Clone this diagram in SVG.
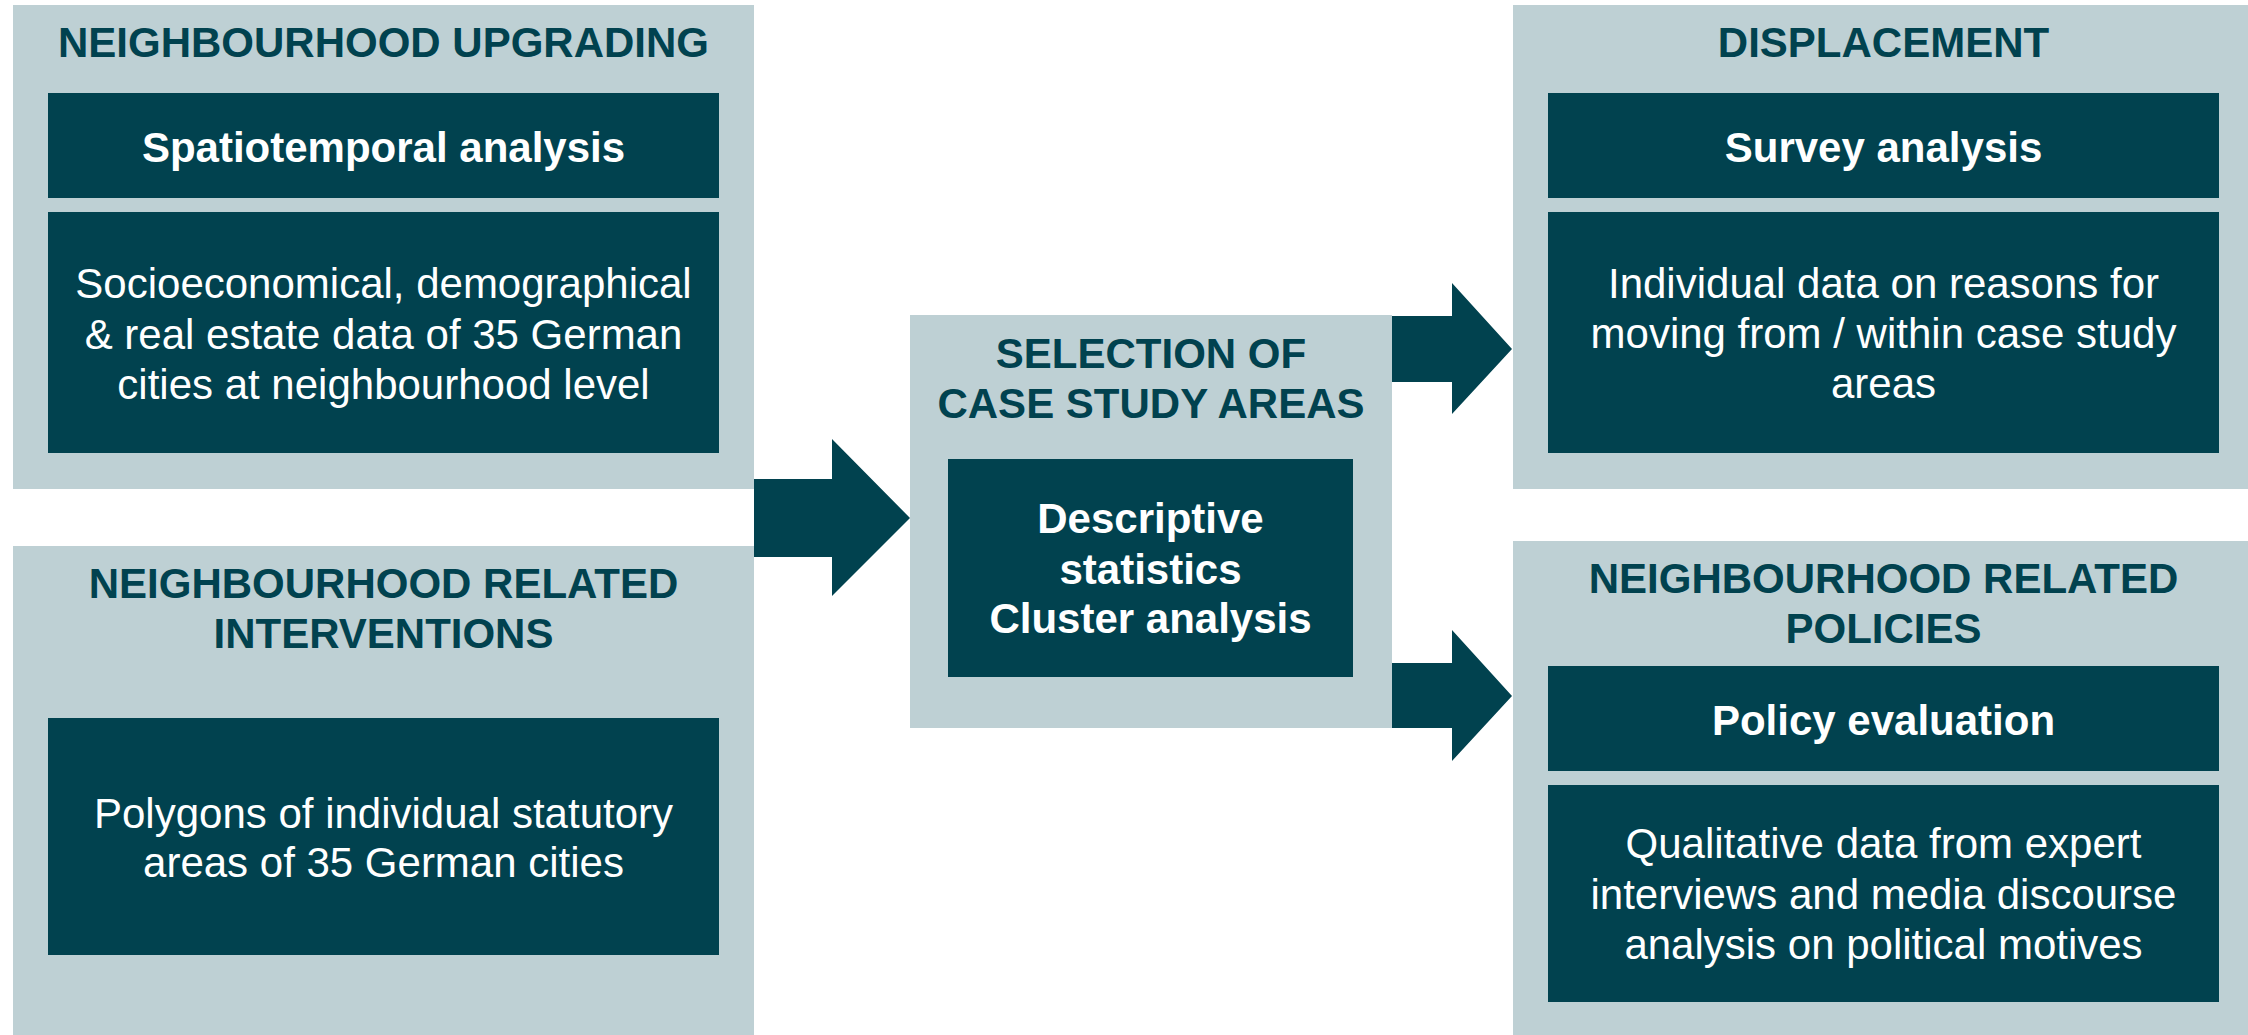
<svg xmlns="http://www.w3.org/2000/svg" width="2248" height="1035" viewBox="0 0 2248 1035">
<style>
.outer{fill:#BED0D4}
.inner{fill:#01424F}
.arrow{fill:#01424F}
text{font-family:"Liberation Sans",Arial,sans-serif;font-size:42px;text-anchor:middle}
.title{font-weight:bold;fill:#01424F}
.head{font-weight:bold;fill:#FFFFFF}
.body{fill:#FFFFFF}
</style>
<rect width="2248" height="1035" fill="#FFFFFF"/>
<g id="node-upgrading">
<rect class="outer" x="13" y="5" width="741" height="484"/>
<text class="title" x="383.5" y="57">NEIGHBOURHOOD UPGRADING</text>
<rect class="inner" x="48" y="93" width="671" height="105"/>
<text class="head" x="383.5" y="162">Spatiotemporal analysis</text>
<rect class="inner" x="48" y="212" width="671" height="241"/>
<text class="body" x="383.5" y="298">Socioeconomical, demographical</text>
<text class="body" x="383.5" y="349">&amp; real estate data of 35 German</text>
<text class="body" x="383.5" y="399">cities at neighbourhood level</text>
</g>
<g id="node-interventions">
<rect class="outer" x="13" y="546" width="741" height="489"/>
<text class="title" x="383.5" y="598">NEIGHBOURHOOD RELATED</text>
<text class="title" x="383.5" y="648">INTERVENTIONS</text>
<rect class="inner" x="48" y="718" width="671" height="237"/>
<text class="body" x="383.5" y="828">Polygons of individual statutory</text>
<text class="body" x="383.5" y="877">areas of 35 German cities</text>
</g>
<g id="node-selection">
<rect class="outer" x="910" y="315" width="482" height="413"/>
<text class="title" x="1151" y="368">SELECTION OF</text>
<text class="title" x="1151" y="418">CASE STUDY AREAS</text>
<rect class="inner" x="948" y="459" width="405" height="218"/>
<text class="head" x="1150.5" y="533">Descriptive</text>
<text class="head" x="1150.5" y="584">statistics</text>
<text class="head" x="1150.5" y="633">Cluster analysis</text>
</g>
<g id="node-displacement">
<rect class="outer" x="1513" y="5" width="735" height="484"/>
<text class="title" x="1883.5" y="57">DISPLACEMENT</text>
<rect class="inner" x="1548" y="93" width="671" height="105"/>
<text class="head" x="1883.5" y="162">Survey analysis</text>
<rect class="inner" x="1548" y="212" width="671" height="241"/>
<text class="body" x="1883.5" y="298">Individual data on reasons for</text>
<text class="body" x="1883.5" y="348">moving from / within case study</text>
<text class="body" x="1883.5" y="398">areas</text>
</g>
<g id="node-policies">
<rect class="outer" x="1513" y="541" width="735" height="494"/>
<text class="title" x="1883.5" y="593">NEIGHBOURHOOD RELATED</text>
<text class="title" x="1883.5" y="643">POLICIES</text>
<rect class="inner" x="1548" y="666" width="671" height="105"/>
<text class="head" x="1883.5" y="735">Policy evaluation</text>
<rect class="inner" x="1548" y="785" width="671" height="217"/>
<text class="body" x="1883.5" y="858">Qualitative data from expert</text>
<text class="body" x="1883.5" y="909">interviews and media discourse</text>
<text class="body" x="1883.5" y="959">analysis on political motives</text>
</g>
<g id="connectors">
<polygon class="arrow" points="754,479 832,479 832,439 910,518 832,596 832,557 754,557"/>
<polygon class="arrow" points="1392,316 1452,316 1452,283 1512,349 1452,414 1452,382 1392,382"/>
<polygon class="arrow" points="1392,663 1452,663 1452,630 1512,696 1452,761 1452,728 1392,728"/>
</g>
</svg>
